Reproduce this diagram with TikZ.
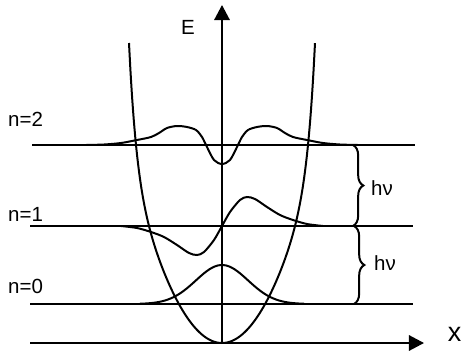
\documentclass[tikz,border=0pt]{standalone}
\usepackage{fontspec}
\setmainfont{Liberation Sans}
\usetikzlibrary{arrows.meta,decorations.pathreplacing}

\begin{document}
\begin{tikzpicture}[
            x=0.03cm, y=-0.03cm,
            line/.style={line width=1.7pt},
            axis/.style={line width=1.7pt, -{Triangle[length=0.45cm, width=0.46cm]}},
            lbl/.style={font=\fontsize{17.5}{20}\selectfont, inner sep=0pt},
            hbrace/.style={line width=1.7pt, decorate, decoration={brace, amplitude=0.31cm}}
        ]
        \useasboundingbox (0,0) rectangle (462,356);

        % Axes
        \coordinate (xstart) at (30,343);
        \coordinate (xend) at (424,343);
        \coordinate (origin) at (222,343);
        \coordinate (ytop) at (222,5);
        \draw[axis] (xstart) -- (xend);
        \draw[axis] (origin) -- (ytop);
        \node[lbl] (elabel) at (188,27.5) {E};
        \node[lbl, font=\fontsize{23}{27}\selectfont] (xlabel) at (454.5,334.5) {x};

        % Energy levels
        \coordinate (lev0a) at (30,304);
        \coordinate (lev0b) at (413,304);
        \coordinate (lev1a) at (30,226);
        \coordinate (lev1b) at (413,226);
        \coordinate (lev2a) at (32,145);
        \coordinate (lev2b) at (415,145);
        \draw[line] (lev0a) -- (lev0b);
        \draw[line] (lev1a) -- (lev1b);
        \draw[line] (lev2a) -- (lev2b);
        \node[lbl, anchor=west] (n0) at (8,286) {n=0};
        \node[lbl, anchor=west] (n1) at (8,214.5) {n=1};
        \node[lbl, anchor=west] (n2) at (8,119.5) {n=2};

        % Potential
        \draw[line] plot[domain=-93:93, samples=121, smooth]
            ({222+\x},{343-0.021*\x*\x-118.4*(abs(\x)/93)^13});

        % Wave functions
        \draw[line] plot[domain=-82:82, samples=60, smooth] ({222+\x},{304-39*exp(-(\x*\x)/1352)});
        \draw[line] plot[smooth] coordinates {(121,226) (137,228) (151,232) (164,237) (177,245)
            (189,253) (197,255) (204,252) (214,240) (222,226) (230,212) (240,200) (247,197)
            (255,199) (267,207) (280,215) (293,220) (307,224) (323,226)};
        \draw[line] plot[smooth] coordinates {(86,145) (104,144.5) (121,143) (137,140) (151,137)
            (159,133) (167,128) (177,126) (187,127) (196,130) (202,137) (207,147) (214,160)
            (222,164) (230,160) (237,147) (242,137) (248,130) (257,127) (267,126) (277,128)
            (285,133) (293,137) (307,140) (323,143) (340,144.5) (358,145)};

        % Transitions
        \coordinate (b2) at (353,145);
        \coordinate (b1) at (353,226);
        \coordinate (c1) at (354,226);
        \coordinate (c0) at (354,304);
        \draw[hbrace] (b2) -- (b1);
        \draw[hbrace] (c1) -- (c0);
        \node[lbl, anchor=west] (hv1) at (371,188) {hν};
        \node[lbl, anchor=west] (hv0) at (374,263) {hν};

        \end{tikzpicture}
\end{document}
